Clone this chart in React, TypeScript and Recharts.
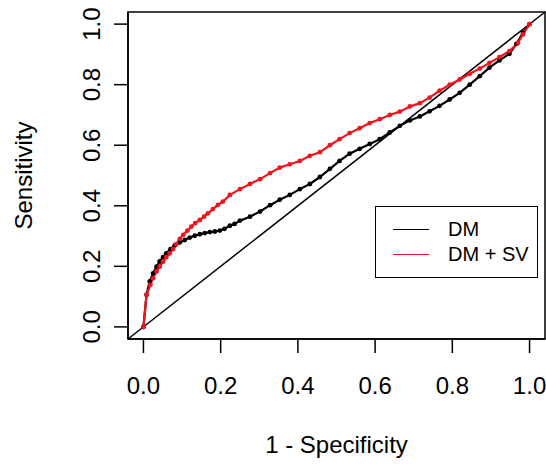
import { LineChart, Line, XAxis, YAxis, ReferenceLine, ReferenceArea, Legend } from 'recharts'

// 1 - specificity / sensitivity for DM
const fprDM = [
    0, 0.008, 0.016, 0.025, 0.034, 0.042, 0.051, 0.059, 0.07, 0.081, 0.094, 0.107, 0.12, 0.133,
    0.146, 0.159, 0.172, 0.185, 0.198, 0.21, 0.224, 0.236, 0.25, 0.276, 0.302, 0.328, 0.353,
    0.379, 0.405, 0.431, 0.457, 0.483, 0.508, 0.534, 0.56, 0.586, 0.612, 0.638, 0.664, 0.69,
    0.716, 0.741, 0.767, 0.793, 0.819, 0.845, 0.871, 0.896, 0.922, 0.948, 0.966, 0.983, 1
]
const tprDM = [
    0, 0.106, 0.15, 0.177, 0.199, 0.216, 0.23, 0.243, 0.257, 0.269, 0.279, 0.287, 0.295, 0.301,
    0.306, 0.31, 0.313, 0.315, 0.318, 0.324, 0.334, 0.34, 0.351, 0.364, 0.381, 0.402, 0.42,
    0.436, 0.455, 0.472, 0.495, 0.522, 0.548, 0.572, 0.588, 0.604, 0.62, 0.642, 0.664, 0.682,
    0.695, 0.712, 0.73, 0.751, 0.773, 0.8, 0.828, 0.856, 0.88, 0.902, 0.935, 0.971, 1
]

// DM + SV
const fprSV = [
    0, 0.008, 0.018, 0.025, 0.034, 0.042, 0.051, 0.059, 0.068, 0.077, 0.085, 0.094, 0.103, 0.114,
    0.124, 0.134, 0.146, 0.157, 0.167, 0.18, 0.193, 0.206, 0.224, 0.25, 0.276, 0.302, 0.328,
    0.353, 0.379, 0.405, 0.431, 0.457, 0.483, 0.508, 0.534, 0.56, 0.586, 0.612, 0.638, 0.664,
    0.69, 0.716, 0.741, 0.767, 0.793, 0.819, 0.845, 0.871, 0.896, 0.922, 0.948, 0.97, 0.983, 1
]
const tprSV = [
    0, 0.106, 0.139, 0.161, 0.183, 0.199, 0.216, 0.23, 0.243, 0.257, 0.273, 0.291, 0.304, 0.318,
    0.331, 0.343, 0.353, 0.364, 0.375, 0.389, 0.403, 0.414, 0.436, 0.455, 0.472, 0.488, 0.508,
    0.526, 0.537, 0.548, 0.565, 0.577, 0.6, 0.62, 0.64, 0.656, 0.673, 0.686, 0.7, 0.711,
    0.728, 0.739, 0.757, 0.78, 0.8, 0.817, 0.836, 0.853, 0.872, 0.891, 0.911, 0.938, 0.966, 1
]

const TICKS = [0, 0.2, 0.4, 0.6, 0.8, 1]
const TICK_LABELS = ['0.0', '0.2', '0.4', '0.6', '0.8', '1.0']
const DOMAIN: [number, number] = [-0.04, 1.04]

const RED = '#f0141e'
const FONT = '"Liberation Sans", Arial, sans-serif'

const dmData = fprDM.map((x, i) => ({ x, y: tprDM[i] }))
const svData = fprSV.map((x, i) => ({ x, y: tprSV[i] }))

const tickLabel = (v: number) => TICK_LABELS[TICKS.indexOf(v)] ?? v.toFixed(1)

const YTick = ({ x, y, payload }: any) => (
    <text x={x} y={y} transform={`rotate(-90 ${x} ${y})`} textAnchor="middle" fontSize={24} fill="#000" fontFamily={FONT}>
        {tickLabel(payload.value)}
    </text>
)

const renderLegend = ({ payload }: any) => (
    <div style={{
        border: '1.5px solid #000', width: 163, height: 72, boxSizing: 'border-box',
        paddingTop: 10, background: '#fff', textAlign: 'left', fontFamily: FONT
    }}>
        {(payload || []).map((item: any) => (
            <div key={item.value} style={{ display: 'flex', alignItems: 'center', height: 25 }}>
                <span style={{ display: 'inline-block', width: 36, borderTop: `1.5px solid ${item.color}`, marginLeft: 17, marginRight: 19 }} />
                <span style={{ fontSize: 20, color: '#000', lineHeight: '25px' }}>{item.value}</span>
            </div>
        ))}
    </div>
)

export default function App() {
    return (
        <div style={{ position: 'absolute', left: 0, top: 0, background: '#fff', fontFamily: FONT }}>
            <LineChart width={546} height={464} margin={{ top: 12, right: 1, bottom: 0, left: 0 }}>
                <XAxis
                    type="number"
                    dataKey="x"
                    domain={DOMAIN}
                    ticks={TICKS}
                    interval={0}
                    allowDataOverflow
                    height={125}
                    tickSize={14}
                    tickMargin={24}
                    tickFormatter={tickLabel}
                    tick={{ fill: '#000', fontSize: 24, fontFamily: FONT }}
                    axisLine={{ stroke: '#000', strokeWidth: 1.5 }}
                    tickLine={{ stroke: '#000', strokeWidth: 1.5 }}
                    label={({ viewBox }: any) => (
                        <text x={viewBox.x + viewBox.width / 2} y={viewBox.y + 114} textAnchor="middle" fontSize={24} fill="#000" fontFamily={FONT}>
                            1 - Specificity
                        </text>
                    )}
                />
                <YAxis
                    type="number"
                    dataKey="y"
                    domain={DOMAIN}
                    ticks={TICKS}
                    interval={0}
                    allowDataOverflow
                    width={128}
                    tickSize={14}
                    tickMargin={14}
                    tick={<YTick />}
                    axisLine={{ stroke: '#000', strokeWidth: 1.5 }}
                    tickLine={{ stroke: '#000', strokeWidth: 1.5 }}
                    label={({ viewBox }: any) => {
                        const lx = viewBox.x + 32
                        const ly = viewBox.y + viewBox.height / 2
                        return (
                            <text x={lx} y={ly} transform={`rotate(-90 ${lx} ${ly})`} textAnchor="middle" fontSize={24} fill="#000" fontFamily={FONT}>
                                Sensitivity
                            </text>
                        )
                    }}
                />
                <ReferenceArea x1={DOMAIN[0]} x2={DOMAIN[1]} y1={DOMAIN[0]} y2={DOMAIN[1]} fill="none" fillOpacity={0} stroke="#000" strokeWidth={1.5} ifOverflow="visible" />
                <ReferenceLine
                    segment={[{ x: DOMAIN[0], y: DOMAIN[0] }, { x: DOMAIN[1], y: DOMAIN[1] }]}
                    stroke="#000"
                    strokeWidth={1.5}
                    ifOverflow="visible"
                />
                <Line
                    data={dmData}
                    dataKey="y"
                    name="DM"
                    type="linear"
                    stroke="#000"
                    strokeWidth={2.2}
                    dot={{ r: 2.4, fill: '#000', stroke: 'none' }}
                    activeDot={false}
                    isAnimationActive={false}
                />
                <Line
                    data={svData}
                    dataKey="y"
                    name="DM + SV"
                    type="linear"
                    stroke={RED}
                    strokeWidth={2.2}
                    dot={{ r: 2.4, fill: RED, stroke: 'none' }}
                    activeDot={false}
                    isAnimationActive={false}
                />
                <Legend
                    layout="vertical"
                    align="center"
                    verticalAlign="middle"
                    content={renderLegend}
                    wrapperStyle={{ position: 'absolute', left: 375, top: 206, width: 163, height: 72 }}
                />
            </LineChart>
        </div>
    )
}
